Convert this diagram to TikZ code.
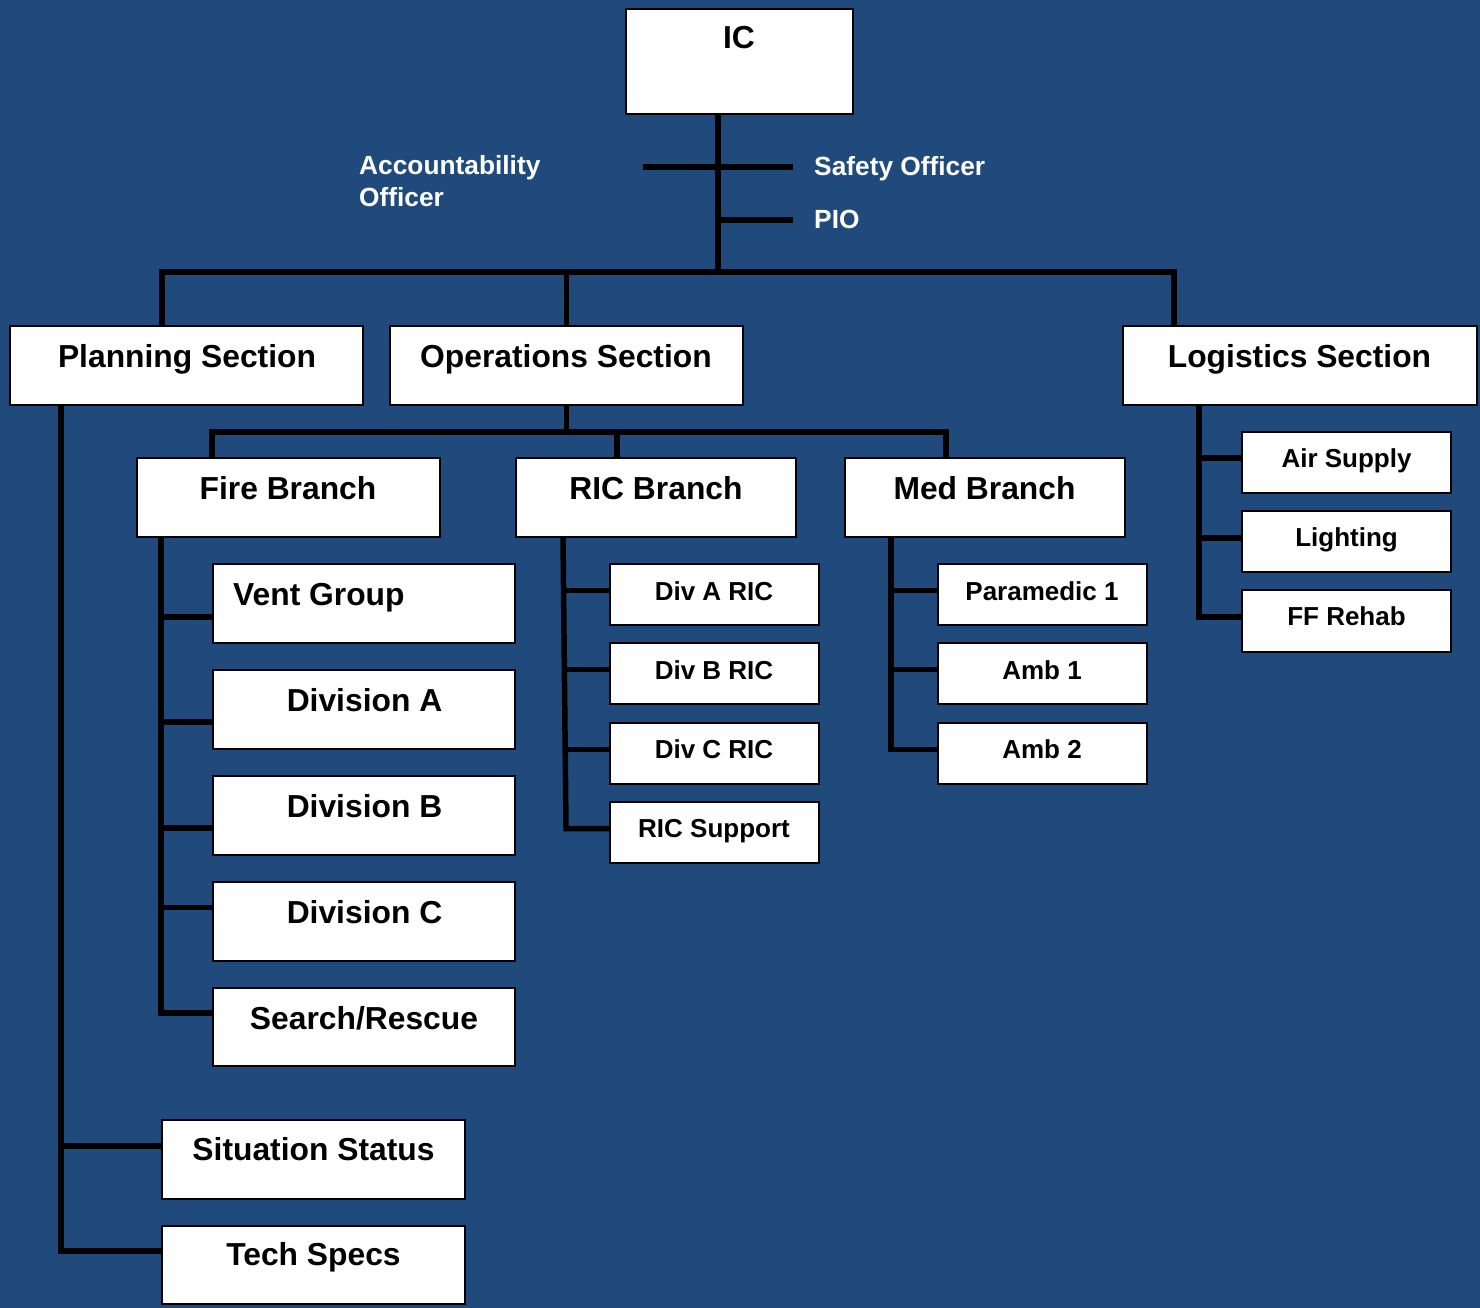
\documentclass[tikz,border=0pt]{standalone}
\usepackage{fontspec}
\setmainfont{Liberation Sans}
\definecolor{bgblue}{HTML}{214A7C}
\newcommand\obox[5]{\node[bx, minimum width={(#4-#2)*1pt}, minimum height={(#5-#3)*1pt}] (#1) at ({(#2+#4)/2},{(#3+#5)/2}) {};}
\begin{document}
\begin{tikzpicture}[x=1pt,y=-1pt,
  bx/.style={draw=black, line width=1.6pt, fill=white, inner sep=0pt, outer sep=0pt},
  ln/.style={line width=5.5pt, black},
  big/.style={font=\fontsize{31.8}{36}\selectfont\bfseries, anchor=base, inner sep=0pt},
  sm/.style={font=\fontsize{26}{30}\selectfont\bfseries, anchor=base, inner sep=0pt},
  wt/.style={font=\fontsize{26.3}{30}\selectfont\bfseries, text=white, anchor=base west, inner sep=0pt}]
\fill[bgblue] (0,0) rectangle (1480,1308);
\useasboundingbox (0,0) rectangle (1480,1308);

% boxes
\obox{ic}{626}{9}{853}{114}
\obox{plan}{10}{326}{363}{405}
\obox{ops}{390}{326}{743}{405}
\obox{logi}{1123}{326}{1477}{405}
\obox{fire}{137}{458}{440}{537}
\obox{ric}{516}{458}{796}{537}
\obox{med}{845}{458}{1125}{537}
\obox{vent}{213}{564}{515}{643}
\obox{diva}{213}{670}{515}{749}
\obox{divb}{213}{776}{515}{855}
\obox{divc}{213}{882}{515}{961}
\obox{sr}{213}{988}{515}{1066}
\obox{sit}{162}{1120}{465}{1199}
\obox{tech}{162}{1226}{465}{1304}
\obox{rica}{610}{564}{819}{625}
\obox{ricb}{610}{643}{819}{704}
\obox{ricc}{610}{723}{819}{784}
\obox{rics}{610}{802}{819}{863}
\obox{para}{938}{564}{1147}{625}
\obox{amba}{938}{643}{1147}{704}
\obox{ambb}{938}{723}{1147}{784}
\obox{air}{1242}{432}{1451}{493}
\obox{light}{1242}{511}{1451}{572}
\obox{ffr}{1242}{590}{1451}{652}

% texts
\node[big] (ic-t) at (739,49) {IC};
\node[big] (plan-t) at (187,367) {Planning Section};
\node[big] (ops-t) at (566,367) {Operations Section};
\node[big] (logi-t) at (1299.5,367) {Logistics Section};
\node[big] (fire-t) at (288,499) {Fire Branch};
\node[big] (ric-t) at (656,499) {RIC Branch};
\node[big] (med-t) at (984.5,499) {Med Branch};
\node[big, anchor=base west] (vent-t) at (233,605) {Vent Group};
\node[big] (diva-t) at (364.5,711) {Division A};
\node[big] (divb-t) at (364.5,817) {Division B};
\node[big] (divc-t) at (364.5,923) {Division C};
\node[big] (sr-t) at (364,1029) {Search/Rescue};
\node[big] (sit-t) at (313.5,1160) {Situation Status};
\node[big] (tech-t) at (313.5,1265) {Tech Specs};
\node[sm] (rica-t) at (714,600) {Div A RIC};
\node[sm] (ricb-t) at (714,679) {Div B RIC};
\node[sm] (ricc-t) at (714,758) {Div C RIC};
\node[sm] (rics-t) at (714,837) {RIC Support};
\node[sm] (para-t) at (1042,600) {Paramedic 1};
\node[sm] (amba-t) at (1042,679) {Amb 1};
\node[sm] (ambb-t) at (1042,758) {Amb 2};
\node[sm] (air-t) at (1346.5,467) {Air Supply};
\node[sm] (light-t) at (1346.5,546) {Lighting};
\node[sm] (ffr-t) at (1346.5,625) {FF Rehab};
\node[wt] (acc1) at (359,175) {Accountability};
\node[wt] (acc2) at (359,207) {Officer};
\node[wt] (safety) at (814,176) {Safety Officer};
\node[wt] (pio) at (814,229) {PIO};

% connector coordinates
\coordinate (icx) at (718,0);
\coordinate (busL) at (162,272);
\coordinate (busR) at (1174,272);
\coordinate (stfL) at (643,167);
\coordinate (stfR) at (793,167);
\coordinate (pioR) at (793,220);
\coordinate (obL) at (212,432);
\coordinate (obR) at (946,432);
\coordinate (ricx) at (617,0);
\coordinate (px) at (61,0);
\coordinate (fx) at (161,0);
\coordinate (mx) at (891,0);
\coordinate (lx) at (1199,0);

% IC and staff
\draw[ln] (icx |- ic.south) -- (icx |- busL);
\draw[ln] (stfL) -- (stfR);
\draw[ln] (icx |- pioR) -- (pioR);
\draw[ln] (busL |- plan.north) -- (busL) -- (busR) -- (busR |- logi.north);
\draw[ln] (ops.north) -- (ops.north |- busL);

% Operations
\draw[ln] (ops.south) -- (ops.south |- obL);
\draw[ln] (obL |- fire.north) -- (obL) -- (obR) -- (obR |- med.north);
\draw[ln] (ricx |- obL) -- (ricx |- ric.north);

% Planning
\draw[ln] (px |- plan.south) -- ([yshift=14pt]tech.west -| px) -- ([yshift=14pt]tech.west);
\draw[ln] ([yshift=13.5pt]sit.west) -- ([yshift=13.5pt]sit.west -| px);

% Fire branch
\draw[ln] (fx |- fire.south) -- ([yshift=14pt]sr.west -| fx) -- ([yshift=14pt]sr.west);
\draw[ln] ([yshift=-13.5pt]vent.west) -- ([yshift=-13.5pt]vent.west -| fx);
\draw[ln] ([yshift=-12.5pt]diva.west) -- ([yshift=-12.5pt]diva.west -| fx);
\draw[ln] ([yshift=-12.5pt]divb.west) -- ([yshift=-12.5pt]divb.west -| fx);
\draw[ln] ([yshift=14pt]divc.west) -- ([yshift=14pt]divc.west -| fx);

% RIC branch
\draw[ln] ([xshift=-93pt]ric.south) -- ([xshift=-44pt,yshift=4pt]rics.west) -- ([yshift=4pt]rics.west);
\draw[ln] ([yshift=4pt]rica.west) -- ++(-46,0);
\draw[ln] ([yshift=4pt]ricb.west) -- ++(-45,0);
\draw[ln] ([yshift=4pt]ricc.west) -- ++(-45,0);

% Med branch
\draw[ln] (mx |- med.south) -- ([yshift=4pt]ambb.west -| mx) -- ([yshift=4pt]ambb.west);
\draw[ln] ([yshift=4pt]para.west) -- ([yshift=4pt]para.west -| mx);
\draw[ln] ([yshift=4pt]amba.west) -- ([yshift=4pt]amba.west -| mx);

% Logistics
\draw[ln] (lx |- logi.south) -- ([yshift=4pt]ffr.west -| lx) -- ([yshift=4pt]ffr.west);
\draw[ln] ([yshift=4.5pt]air.west) -- ([yshift=4.5pt]air.west -| lx);
\draw[ln] ([yshift=3.5pt]light.west) -- ([yshift=3.5pt]light.west -| lx);
\end{tikzpicture}
\end{document}
